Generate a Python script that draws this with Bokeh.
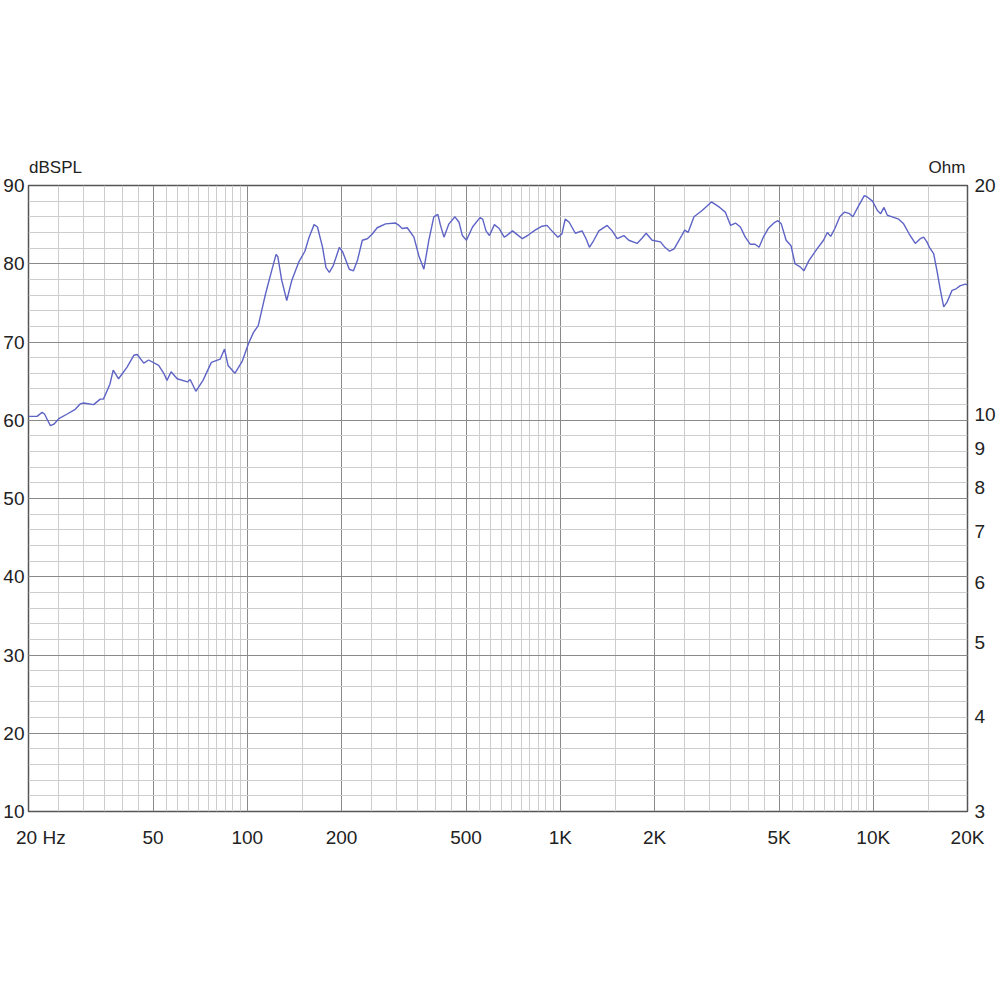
from bokeh.plotting import figure
from bokeh.models import FixedTicker, LogAxis, Range1d, PrintfTickFormatter, LogScale
from bokeh.embed import file_html
from bokeh.resources import INLINE

# frequency response (Hz, dB SPL)
freq_hz = [
    20, 21.3, 22.1, 22.5, 23.5, 24.1, 25.0, 26.6, 28.2, 29.3, 30.0, 32.3, 33.9, 34.7,
    36.4, 37.3, 38.8, 41.3, 43.4, 44.5, 46.7, 48.4, 52.1, 54.1, 55.4, 57.1, 59.7,
    64.4, 65.7, 68.5, 72.2, 76.8, 81.9, 84.6, 86.8, 91.3, 96.5, 100.9, 104.6, 108.4,
    112.5, 114.3, 118.9, 123.6, 125.2, 128.8, 133.7, 138.8, 146.0, 152.8, 157.6,
    163.5, 167.6, 174.0, 178.4, 182.9, 188.4, 196.9, 201.8, 211.8, 218.4, 224.8,
    233.1, 241.8, 250.8, 260.1, 276.5, 297.8, 305.3, 312.8, 324.4, 340.7, 353.4,
    366.6, 380.2, 394.4, 406.3, 414.3, 425.0, 440.8, 460.9, 474.8, 486.7, 501.5,
    524.4, 553.8, 565, 579, 594, 616, 638, 662, 674, 704, 735, 757, 792, 831, 874,
    907, 940, 983, 1012, 1037, 1068, 1117, 1174, 1209, 1239, 1280, 1328, 1412, 1465,
    1520, 1596, 1655, 1760, 1827, 1881, 1966, 2090, 2159, 2235, 2310, 2443, 2498,
    2561, 2674, 2840, 3040, 3232, 3366, 3501, 3628, 3762, 3900, 4043, 4192, 4316,
    4453, 4617, 4842, 4959, 5081, 5267, 5461, 5621, 5838, 6006, 6226, 6612, 6934,
    7135, 7310, 7539, 7815, 8102, 8400, 8605, 8921, 9360, 9590, 9943, 10310, 10560,
    10820, 11090, 11490, 12060, 12500, 13030, 13620, 14130, 14480, 14840, 15110,
    15590, 15980, 16390, 16790, 17210, 17850, 18390, 18980, 19700, 20000,
]
spl_db = [
    60.5, 60.5, 61.0, 60.8, 59.3, 59.5, 60.2, 60.8, 61.4, 62.1, 62.2, 62.0, 62.7, 62.7,
    64.6, 66.4, 65.3, 66.8, 68.3, 68.4, 67.3, 67.7, 67.0, 66.0, 65.1, 66.2, 65.3,
    64.9, 65.2, 63.7, 65.1, 67.4, 67.8, 69.1, 67.0, 66.0, 67.6, 69.8, 71.2, 72.1,
    74.9, 76.1, 78.7, 81.2, 80.9, 77.9, 75.3, 77.9, 80.2, 81.6, 83.4,
    85.0, 84.7, 82.1, 79.5, 78.9, 79.8, 82.1, 81.5, 79.3, 79.1, 80.4,
    83.0, 83.2, 83.8, 84.6, 85.1, 85.2, 84.9, 84.5, 84.6, 83.4, 81.0,
    79.3, 83.0, 86.0, 86.3, 84.9, 83.4, 85.1, 86.0, 85.3, 83.6, 83.0,
    84.7, 85.9, 85.7, 84.2, 83.6, 85.0, 84.5, 83.4, 83.6, 84.2, 83.6, 83.2, 83.7, 84.3, 84.8,
    84.9, 84.2, 83.4, 83.8, 85.7, 85.3, 83.9, 84.2, 83.2, 82.1, 83.0, 84.2, 84.9, 84.2,
    83.2, 83.6, 83.0, 82.6, 83.3, 83.9, 83.0, 82.8, 82.1, 81.6, 81.9, 83.6, 84.3,
    84.0, 86.0, 86.8, 87.9, 87.2, 86.6, 84.9, 85.2, 84.7, 83.4, 82.5, 82.5, 82.1,
    83.4, 84.5, 85.3, 85.5, 85.1, 83.0, 82.3, 80.0, 79.6, 79.1, 80.4, 81.9, 83.0,
    84.0, 83.5, 84.5, 86.0, 86.6, 86.4, 86.0, 87.2, 88.7, 88.5, 88.0, 86.8, 86.4,
    87.2, 86.2, 86.0, 85.7, 85.1, 83.8, 82.6, 83.2, 83.4, 82.8, 82.1,
    81.3, 79.1, 76.6, 74.5, 75.1, 76.6, 76.8, 77.2, 77.4, 77.3,
]

x_grid_major = [20, 50, 100, 200, 500, 1000, 2000, 5000, 10000, 20000]
x_minor = []
for decade in [1, 10, 100, 1000]:
    x_minor += [v * decade for v in [25, 30, 35, 40, 45, 55, 60, 65, 70, 75, 80, 85, 90, 95, 150]]
# tick labels; the first one is drawn just right of the frame edge
x_label_pos = [21.9, 50, 100, 200, 500, 1000, 2000, 5000, 10000, 20000]
x_tick_labels = ["20 Hz", "50", "100", "200", "500", "1K", "2K", "5K", "10K", "20K"]
y_ticks = [10, 20, 30, 40, 50, 60, 70, 80, 90]
y_minor = list(range(10, 91, 2))
ohm_ticks = [3, 4, 5, 6, 7, 8, 9, 10, 20]
# unit captions over the two ends of the frame (placed where their centres fall)
unit_pos = [24.4, 17200]
unit_labels = ["dBSPL", "Ohm"]

FONT = "Liberation Sans"
TXT = "#222222"

p = figure(
    width=998, height=858, x_axis_type="log", x_range=(20, 20000), y_range=(10, 90),
    output_backend="svg", toolbar_location=None,
    min_border_top=185, min_border_bottom=47, min_border_left=28, min_border_right=30,
)
p.outline_line_color = "#555555"
p.outline_line_width = 1.5

p.xaxis.ticker = FixedTicker(ticks=x_label_pos)
p.xaxis.major_label_overrides = dict(zip(x_label_pos, x_tick_labels))
p.xgrid.ticker = FixedTicker(ticks=x_grid_major, minor_ticks=x_minor)
p.yaxis.ticker = FixedTicker(ticks=y_ticks, minor_ticks=y_minor)

for ax in [p.xaxis[0], p.yaxis[0]]:
    ax.axis_line_color = None
    ax.major_tick_line_color = None
    ax.minor_tick_line_color = None
    ax.major_tick_out = 0
    ax.minor_tick_out = 0
    ax.major_label_text_font = FONT
    ax.major_label_text_font_size = "19px"
    ax.major_label_text_color = TXT
p.xaxis.major_label_standoff = 15
p.yaxis.major_label_standoff = 4

p.xgrid.grid_line_color = "#8a8a8a"
p.xgrid.minor_grid_line_color = "#cdcdcd"
p.ygrid.grid_line_color = "#8a8a8a"
p.ygrid.minor_grid_line_color = "#cdcdcd"

p.extra_y_ranges = {"ohm": Range1d(3, 20)}
p.extra_y_scales = {"ohm": LogScale()}
ohm_axis = LogAxis(
    y_range_name="ohm", ticker=FixedTicker(ticks=ohm_ticks),
    formatter=PrintfTickFormatter(format="%d"),
    axis_line_color=None, major_tick_line_color=None, minor_tick_line_color=None,
    major_tick_out=0, minor_tick_out=0, major_label_standoff=7,
    major_label_text_font=FONT, major_label_text_font_size="19px",
    major_label_text_color=TXT,
)
p.add_layout(ohm_axis, "right")

unit_axis = LogAxis(
    ticker=FixedTicker(ticks=unit_pos),
    major_label_overrides=dict(zip(unit_pos, unit_labels)),
    axis_line_color=None, major_tick_line_color=None, minor_tick_line_color=None,
    major_tick_out=0, minor_tick_out=0, major_label_standoff=9,
    major_label_text_font=FONT, major_label_text_font_size="17px",
    major_label_text_color=TXT,
)
p.add_layout(unit_axis, "above")

p.line(freq_hz, spl_db, line_color="#5e63c6", line_width=1.4)

open("out.html", "w").write(file_html(p, INLINE))
